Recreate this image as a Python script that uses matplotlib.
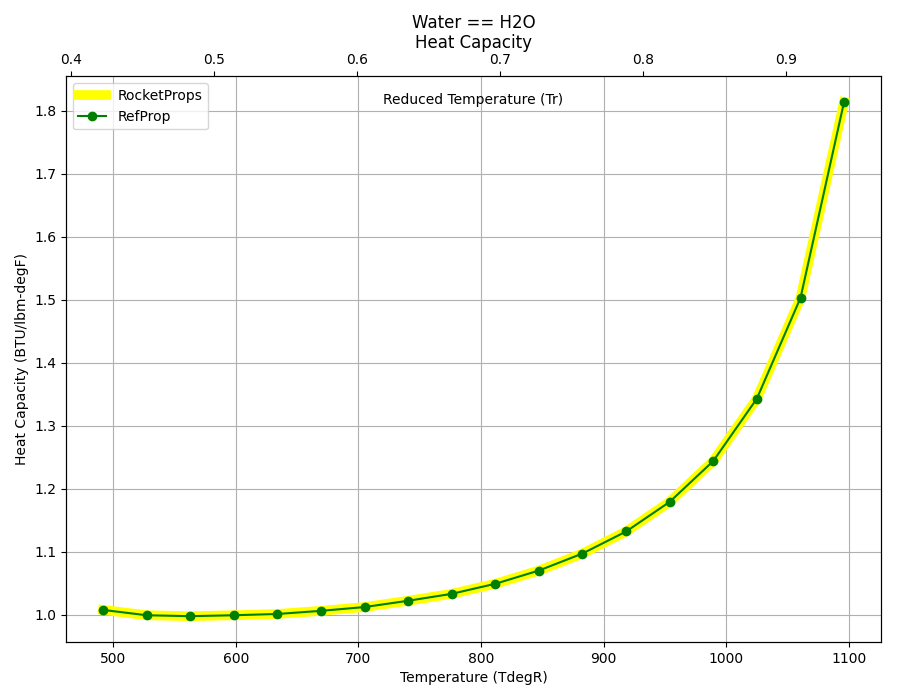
import matplotlib
matplotlib.use("Agg")
import matplotlib.pyplot as plt

title = "Water == H2O\nHeat Capacity"
Tc = 1164.77  # degR, critical temperature of water

temps = [491.7, 527.2, 562.8, 598.3, 633.8, 669.4, 704.9, 740.5, 776.0,
         811.6, 847.1, 882.6, 918.2, 953.7, 989.3, 1024.8, 1060.4, 1095.9]
cp_rocketprops = [1.0075, 0.999, 0.9975, 0.999, 1.001, 1.006, 1.012, 1.022, 1.033,
                  1.049, 1.070, 1.097, 1.132, 1.179, 1.244, 1.343, 1.503, 1.814]
cp_refprop = [1.0075, 0.999, 0.9975, 0.999, 1.001, 1.006, 1.012, 1.022, 1.033,
              1.049, 1.070, 1.097, 1.132, 1.179, 1.244, 1.343, 1.503, 1.814]

fig = plt.figure(figsize=(9, 7), dpi=100)
ax = fig.add_subplot(111)
fig.subplots_adjust(left=0.0733, right=0.979, bottom=0.083, top=0.891)

ax.plot(temps, cp_rocketprops, '-', color='yellow', lw=7, label='RocketProps')
ax.plot(temps, cp_refprop, '-o', color='green', lw=1.5, markersize=6, label='RefProp')
ax.grid(True)
ax.set_xlabel('Temperature (TdegR)')
ax.set_ylabel('Heat Capacity (BTU/lbm-degF)')
ax.legend(loc='upper left')

ax2 = ax.twiny()
x0, x1 = ax.get_xlim()
ax2.set_xlim(x0 / Tc, x1 / Tc)
ax2.set_title(title, fontsize=12, pad=3)
ax.text(0.5, 0.958, 'Reduced Temperature (Tr)', transform=ax.transAxes,
        ha='center', va='center', fontsize=10)

fig.savefig('out.png', dpi=100)
